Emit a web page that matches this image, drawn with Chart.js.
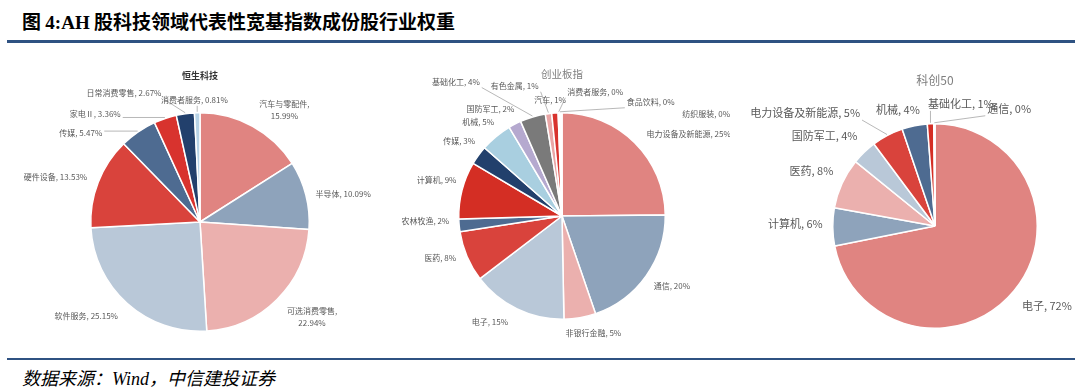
<!DOCTYPE html>
<html><head><meta charset="utf-8">
<script src="https://cdn.jsdelivr.net/npm/chart.js@4.4.1/dist/chart.umd.min.js"></script>
<style>
body{margin:0;width:1080px;height:390px;background:#fff;position:relative;overflow:hidden;font-family:"Noto Sans CJK SC",sans-serif;}
#title{position:absolute;left:22px;top:8px;font-size:19px;font-weight:bold;color:#000;white-space:nowrap;line-height:26px;}
#title .en{font-family:"Liberation Serif",serif;}
.rule{position:absolute;left:7px;width:1068px;background:#2f5282;}
#src{position:absolute;left:22px;top:366px;font-size:18px;font-style:italic;color:#000;white-space:nowrap;line-height:22px;}
#src .en{font-family:"Liberation Serif",serif;}
canvas{position:absolute;top:50px;}
#c1{left:0px;} #c2{left:370px;} #c3{left:740px;}
</style></head>
<body>
<div id="title">图 <span class="en">4:AH</span> 股科技领域代表性宽基指数成份股行业权重</div>
<div class="rule" style="top:40px;height:3px;"></div>
<canvas id="c1" width="372" height="300"></canvas>
<canvas id="c2" width="360" height="300"></canvas>
<canvas id="c3" width="340" height="300"></canvas>
<div class="rule" style="top:358px;height:2px;"></div>
<div id="src">数据来源：<span class="en">Wind</span>，中信建投证券</div>
<script>
// ---- data ----
const hsTitle = '恒生科技';
const hsCategories = ['汽车与零配件','半导体','可选消费零售','软件服务','硬件设备','传媒','家电Ⅱ','日常消费零售','消费者服务'];
const hsValues = [15.99,10.09,22.94,25.15,13.53,5.47,3.36,2.67,0.81];

const cybTitle = '创业板指';
const cybCategories = ['电力设备及新能源','通信','非银行金融','电子','医药','农林牧渔','计算机','传媒','机械','国防军工','基础化工','有色金属','汽车','消费者服务','食品饮料','纺织服装'];
const cybValues = [25,20,5,15,8,2,9,3,5,2,4,1,1,0.2,0.2,0.2];

const kcTitle = '科创50';
const kcCategories = ['电子','计算机','医药','国防军工','电力设备及新能源','机械','基础化工','通信'];
const kcValues = [72,6,8,4,5,4,1,0.2];

// ---- styles ----
const hsColors = ['#e08481','#8ea3bb','#ebb0ae','#b9c8d8','#d9433c','#4e6b91','#d8332e','#22406c','#b7d3e6'];
const cybColors = ['#e08481','#8ea3bb','#ebb0ae','#b9c8d8','#d9433c','#4e6b91','#d42e24','#22406c','#a9cfe0','#b5a9cf','#7a7a7a','#eaa6a6','#d8332e','#ffffff','#b7d3e6','#e08481'];
const kcColors = ['#e08481','#8ea3bb','#ebb0ae','#b9c8d8','#d9433c','#4e6b91','#d42e24','#22406c'];

const hsLayout = {
  padding:{left:90,right:62,top:62,bottom:18}, dist:14, font:'8px "Noto Sans CJK SC"', lineH:12, color:'#595959',
  title:hsTitle, titleOff:146, titleFont:'bold 9px "Noto Sans CJK SC"', titleColor:'#333333',
  decimals:2,
  nudge:[[0,-4],[-4,2],[0,8],[0,2],[2,0],[-28,13],[-40,9],[-22,-7],[31,1]],
  align:[null,null,null,null,null,null,null,null,null],
  wrap:[true,false,true,false,false,false,false,false,false],
  leader:[false,false,false,false,false,true,true,true,true]
};
const cybLayout = {
  padding:{left:88,right:64,top:62,bottom:30}, dist:14, font:'8px "Noto Sans CJK SC"', lineH:12, color:'#595959',
  title:cybTitle, titleOff:142, titleFont:'10.5px "Noto Sans CJK SC"', titleColor:'#7f7f7f',
  decimals:0,
  nudge:[[2,1],[-4,2],[-17,1],[-3,0],[2,-4],[4,-6],[8,-7],[8,-6],[7,-4],[6,-3],[-49,-22],[-8,-14],[12,1],[9,-7],[67,3],[121,15]],
  align:[null,null,null,null,null,null,null,null,null,null,null,null,null,'left','left','left'],
  wrap:new Array(16).fill(false),
  leader:[false,false,false,false,false,false,false,false,false,false,true,true,false,true,true,false]
};
const kcLayout = {
  padding:{left:92,right:42,top:73,bottom:21}, dist:14, font:'11px "Noto Sans CJK SC"', lineH:14, color:'#595959',
  title:kcTitle, titleOff:146, titleFont:'12px "Noto Sans CJK SC"', titleColor:'#7f7f7f',
  decimals:0,
  nudge:[[-3,6],[4,-3],[4,-7],[3,-6],[-21,-10],[8,-2],[-2,-6],[53,-1]],
  align:[null,null,null,null,null,null,'left','left'],
  wrap:new Array(8).fill(false),
  leader:[false,false,false,false,true,false,true,true]
};

function labelPlugin(L){
  return {
    id:'pieLabels',
    afterDraw(chart){
      const ctx = chart.ctx;
      const meta = chart.getDatasetMeta(0);
      const labels = chart.data.labels;
      const vals = chart.data.datasets[0].data;
      ctx.save();
      let cx0=0, cy0=0;
      meta.data.forEach((arc,i)=>{
        const p = arc.getProps(['x','y','startAngle','endAngle','outerRadius'], true);
        cx0=p.x; cy0=p.y;
        const mid=(p.startAngle+p.endAngle)/2;
        const R=p.outerRadius+L.dist;
        const n=L.nudge[i]||[0,0];
        const ax=p.x+R*Math.cos(mid)+n[0];
        const ay=p.y+R*Math.sin(mid)+n[1];
        const align=L.align[i]||(Math.cos(mid)>=0?'left':'right');
        const pct=vals[i].toFixed(L.decimals)+'%';
        const lines=L.wrap[i]?[labels[i]+',',pct]:[labels[i]+', '+pct];
        ctx.font=L.font;
        const w=Math.max(...lines.map(s=>ctx.measureText(s).width));
        const left=align==='left'?ax:ax-w;
        const h=lines.length*L.lineH;
        const top=ay-h/2;
        ctx.fillStyle=L.color;
        ctx.textBaseline='middle';
        ctx.textAlign='left';
        lines.forEach((s,k)=>{
          const sw=ctx.measureText(s).width;
          ctx.fillText(s,left+(w-sw)/2,top+L.lineH*(k+0.5));
        });
        if(L.leader[i]){
          const sx=p.x+(p.outerRadius+1)*Math.cos(mid), sy=p.y+(p.outerRadius+1)*Math.sin(mid);
          const ex=Math.min(Math.max(sx,left-2),left+w+2);
          const ey=Math.min(Math.max(sy,top),top+h);
          ctx.strokeStyle='#a6a6a6';
          ctx.lineWidth=0.8;
          ctx.beginPath();ctx.moveTo(sx,sy);ctx.lineTo(ex,ey);ctx.stroke();
        }
      });
      ctx.font=L.titleFont;
      ctx.fillStyle=L.titleColor;
      ctx.textAlign='center';
      ctx.textBaseline='middle';
      ctx.fillText(L.title,cx0,cy0-L.titleOff);
      ctx.restore();
    }
  };
}

function makePie(id,cats,vals,colors,L){
  new Chart(document.getElementById(id),{
    type:'pie',
    data:{labels:cats,datasets:[{data:vals,backgroundColor:colors,borderColor:'#ffffff',borderWidth:1.5}]},
    options:{responsive:false,animation:false,layout:{padding:L.padding},
      plugins:{legend:{display:false},tooltip:{enabled:false}}},
    plugins:[labelPlugin(L)]
  });
}
makePie('c1',hsCategories,hsValues,hsColors,hsLayout);
makePie('c2',cybCategories,cybValues,cybColors,cybLayout);
makePie('c3',kcCategories,kcValues,kcColors,kcLayout);
</script>
</body></html>
